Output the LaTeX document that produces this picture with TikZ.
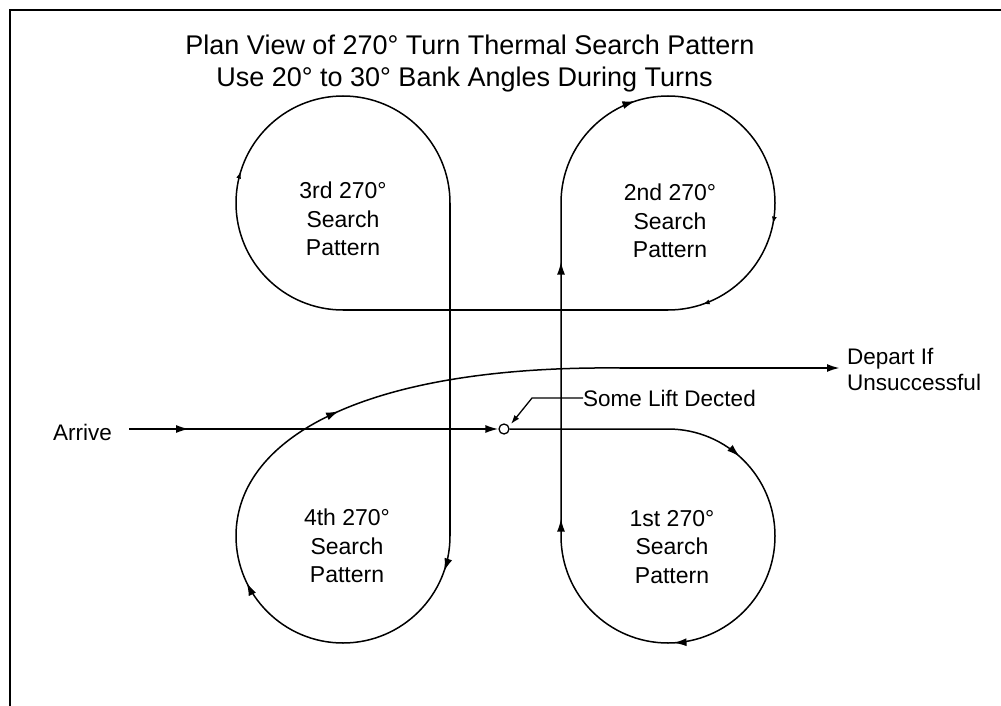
\documentclass[tikz,border=0pt]{standalone}
\usepackage{fontspec}
\setmainfont{Liberation Sans}
\usetikzlibrary{arrows.meta,decorations.markings}

\tikzset{
  route/.style={line width=1.5pt, line join=round},
  heavy/.style={line width=2.2pt},
  lbl/.style={font=\fontsize{23}{28.5}\selectfont, align=center, inner sep=0pt},
  ttl/.style={font=\fontsize{27}{32}\selectfont, inner sep=0pt, anchor=base},
  side/.style={font=\fontsize{22.5}{26}\selectfont, inner sep=0pt},
  bigtip/.style={-{Latex[length=13pt,width=8pt]}},
  arr/.style={postaction={decorate,decoration={markings,
      mark=at position #1 with {\arrow{Latex[length=13pt,width=8pt]}}}}},
  sarr/.style={postaction={decorate,decoration={markings,
      mark=at position #1 with {\arrow{Latex[length=7pt,width=5pt]}}}}},
}

\begin{document}
\begin{tikzpicture}[x=1pt,y=-1pt]
\useasboundingbox (0,0) rectangle (1001,706);

% frame
\draw[line width=1.6pt] (10,706) -- (10,10) -- (1001,10);

% title
\node[ttl] (t1) at (470,55) {Plan View of 270° Turn Thermal Search Pattern};
\node[ttl] (t2) at (464.5,87) {Use 20° to 30° Bank Angles During Turns};

% named points
\coordinate (a0) at (129,429);
\node[circle, draw, line width=1.3pt, fill=white, minimum size=10pt, inner sep=0pt] (lift) at (504,429) {};
\coordinate (c1top) at (668,429);
\coordinate (v1top) at (561,203);
\coordinate (c2bot) at (668,310);
\coordinate (c3bot) at (343,310);
\coordinate (v2bot) at (450,536);
\coordinate (dep) at (620,368);
\coordinate (depend) at (840,368);

% arrive
\draw[route, arr=60pt, bigtip] (a0) -- (lift.west);

% 1st loop and climb to the 2nd
\draw[route, arr=237pt, arr=489pt, arr=680pt, arr=937pt]
  (lift.east) -- (c1top) arc[start angle=270, end angle=540, radius=107] -- (v1top);

% 2nd loop
\draw[route, arr=135pt, sarr=357pt, sarr=469pt]
  (v1top) arc[start angle=180, end angle=450, radius=107];
\draw[heavy] (c2bot) -- (c3bot);

% 3rd loop
\draw[route, sarr=200pt] (c3bot) arc[start angle=90, end angle=360, radius=107];
\draw[line width=2pt] (450,203) -- (450,380);
\draw[route] (450,380) -- (v2bot);

% 4th loop and departure
\draw[route, arr=36pt, arr=288pt, arr=508pt]
  (v2bot) arc[start angle=0, end angle=210, radius=107]
  .. controls (292,410) and (420,366) .. (dep);
\draw[heavy, bigtip] (dep) -- (depend);

% loop labels
\node[lbl] (l3) at (343,219) {3rd 270°\\Search\\Pattern};
\node[lbl] (l2) at (670,221) {2nd 270°\\Search\\Pattern};
\node[lbl] (l4) at (347,546) {4th 270°\\Search\\Pattern};
\node[lbl] (l1) at (672,547) {1st 270°\\Search\\Pattern};

% side labels
\node[side, anchor=east] (arrive) at (112,432) {Arrive};
\node[side, anchor=west, align=left] (depart) at (847,369) {Depart If\\Unsuccessful};
\node[side, anchor=west] (liftlbl) at (583,398) {Some Lift Dected};
\coordinate (lk) at (532,398);
\coordinate (ltip) at (511,424);
\draw[line width=1.3pt, -{Latex[length=9pt,width=6pt]}] (liftlbl.west) -- (lk) -- (ltip);
\end{tikzpicture}
\end{document}
